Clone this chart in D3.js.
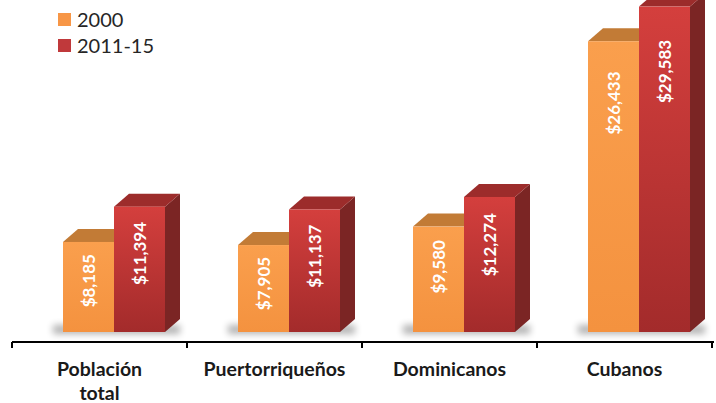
<!DOCTYPE html>
<meta charset="utf-8">
<script src="https://d3js.org/d3.v7.min.js"></script>
<style>
  body { margin: 0; background: #fff; }
  text { font-family: Lato, "Open Sans", sans-serif; }
</style>
<div id="chart"></div>
<script>

// data
var categories = [["Población", "total"], ["Puertorriqueños"], ["Dominicanos"], ["Cubanos"]];
var series = ["2000", "2011-15"];
var values2000 = [8185, 7905, 9580, 26433];
var values2011 = [11394, 11137, 12274, 29583];

var width = 716, height = 403;
var depthX = 15, depthY = 13;

var colors = {
  "2000":    {top: "#c27b36", front1: "#fa9f4d", front2: "#f4923f", side: "#b8692a", legend: "#f79646"},
  "2011-15": {top: "#9c2c2b", front1: "#d43f3d", front2: "#a32b2b", side: "#7b2524", legend: "#c0393b"}
};

var svg = d3.select("#chart").append("svg")
    .attr("width", width)
    .attr("height", height);

var defs = svg.append("defs");
defs.append("filter").attr("id", "blur")
    .attr("x", "-50%").attr("y", "-200%").attr("width", "200%").attr("height", "500%")
  .append("feGaussianBlur").attr("stdDeviation", 3.5);

series.forEach(function(s, i) {
  var g = defs.append("linearGradient").attr("id", "front" + i)
      .attr("x1", 0).attr("y1", 0).attr("x2", 0).attr("y2", 1);
  g.append("stop").attr("offset", "0%").attr("stop-color", colors[s].front1);
  g.append("stop").attr("offset", "100%").attr("stop-color", colors[s].front2);
});

var x0 = d3.scaleBand()
    .domain(d3.range(categories.length))
    .range([12, 712]);

var x1 = d3.scaleBand()
    .domain(series)
    .range([51, 153]);

var y = d3.scaleLinear()
    .domain([0, 30000])
    .range([332, 2]);

var rows = categories.map(function(c, i) {
  return {i: i, label: c, bars: [
    {s: "2000", idx: 0, v: values2000[i]},
    {s: "2011-15", idx: 1, v: values2011[i]}
  ]};
});

// axis
var axis = svg.append("g").attr("transform", "translate(0,342)")
    .call(d3.axisBottom(x0).tickSize(0).tickFormat(""));
axis.select(".domain").attr("stroke", "#000").attr("stroke-width", 2).attr("d", "M12,0H714");
axis.selectAll(".tick").remove();
var tickX = x0.domain().map(function(d) { return x0(d); }).concat([x0.range()[1]]);
axis.selectAll("line.tk").data(tickX).enter().append("line")
    .attr("class", "tk")
    .attr("x1", function(d) { return d; }).attr("x2", function(d) { return d; })
    .attr("y1", 0).attr("y2", 6)
    .attr("stroke", "#000").attr("stroke-width", 2);

// category labels
svg.selectAll("text.cat").data(rows).enter().append("text")
    .attr("class", "cat")
    .attr("text-anchor", "middle")
    .attr("font-size", 19.5)
    .attr("font-weight", 700)
    .attr("fill", "#1a1a1a")
    .each(function(d) {
      var t = d3.select(this);
      d.label.forEach(function(line, k) {
        t.append("tspan")
          .attr("x", x0(d.i) + x0.bandwidth() / 2)
          .attr("y", 376 + k * 24)
          .text(line);
      });
    });

// bars
var groups = svg.selectAll("g.grp").data(rows).enter().append("g")
    .attr("class", "grp")
    .attr("transform", function(d) { return "translate(" + x0(d.i) + ",0)"; });

// shadows first
groups.append("rect")
    .attr("x", x1("2000") - 10)
    .attr("y", y(0) - 7)
    .attr("width", x1.bandwidth() * 2 + depthX + 10)
    .attr("height", 9)
    .attr("fill", "#000")
    .attr("opacity", 0.3)
    .attr("filter", "url(#blur)");

var bars = groups.selectAll("g.bar").data(function(d) { return d.bars; }).enter().append("g")
    .attr("class", "bar");

bars.append("polygon")
    .attr("fill", function(d) { return colors[d.s].side; })
    .attr("points", function(d) {
      var xr = x1(d.s) + x1.bandwidth(), yt = y(d.v), yb = y(0);
      return [[xr, yt], [xr + depthX, yt - depthY], [xr + depthX, yb - depthY], [xr, yb]].join(" ");
    });

bars.append("polygon")
    .attr("fill", function(d) { return colors[d.s].top; })
    .attr("points", function(d) {
      var xl = x1(d.s), xr = xl + x1.bandwidth(), yt = y(d.v);
      return [[xl, yt], [xr, yt], [xr + depthX, yt - depthY], [xl + depthX, yt - depthY]].join(" ");
    });

bars.append("rect")
    .attr("x", function(d) { return x1(d.s); })
    .attr("y", function(d) { return y(d.v); })
    .attr("width", x1.bandwidth())
    .attr("height", function(d) { return y(0) - y(d.v); })
    .attr("fill", function(d) { return "url(#front" + d.idx + ")"; });

// value labels
bars.append("text")
    .attr("transform", function(d) {
      var cx = x1(d.s) + x1.bandwidth() / 2;
      var h = y(0) - y(d.v);
      return "translate(" + cx + "," + (y(d.v) + 4 + h * 0.09) + ") rotate(-90)";
    })
    .attr("text-anchor", "end")
    .attr("dy", "0.36em")
    .attr("fill", "#fff")
    .attr("font-size", 17)
    .attr("font-weight", 700)
    .text(function(d) { return "$" + d3.format(",")(d.v); });

// legend
var legend = svg.selectAll("g.leg").data(series).enter().append("g")
    .attr("class", "leg")
    .attr("transform", function(d, i) { return "translate(58," + (13 + i * 26) + ")"; });
legend.append("rect")
    .attr("width", 13).attr("height", 13)
    .attr("fill", function(d) { return colors[d].legend; });
legend.append("text")
    .attr("x", 19).attr("y", 14)
    .attr("font-size", 20)
    .attr("fill", "#262626")
    .text(function(d) { return d; });

</script>
